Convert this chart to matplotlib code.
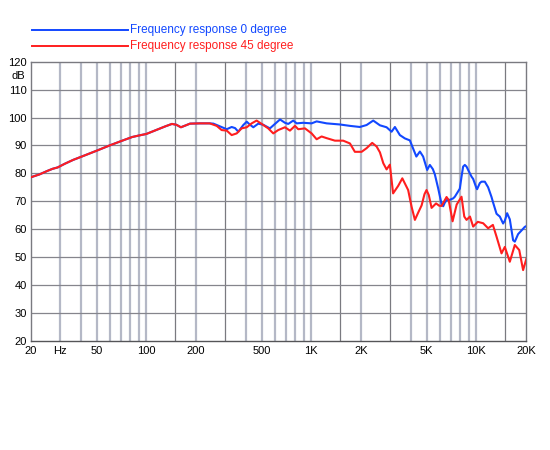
import numpy as np
import matplotlib
matplotlib.use("Agg")
import matplotlib.pyplot as plt
from matplotlib.ticker import FixedLocator, NullLocator

plt.rcParams['font.family'] = ['Liberation Sans', 'DejaVu Sans']

# frequency response 0 degree (Hz, dB)
freq_0 = [20, 22.5, 25, 27, 29, 32, 36, 41, 50, 60, 70, 82, 91, 100, 118, 130, 143, 152, 162,
          172, 184, 211, 242, 255, 280, 307, 329, 345, 361, 387, 406, 425, 445, 477, 511, 561,
          602, 646, 692, 725, 777, 815, 893, 1004, 1077, 1238, 1490, 1714, 1969, 2162, 2372,
          2605, 2858, 3065, 3210, 3440, 3690, 3956, 4144, 4330, 4550, 4760, 5035, 5228, 5450,
          5606, 5872, 6155, 6300, 6444, 6600, 6910, 7235, 7408, 7756, 7943, 8134, 8318, 8518,
          8722, 8920, 9354, 9565, 10027, 10110, 10500, 10752, 11258, 11788, 12360, 12640,
          13256, 13554, 13878, 14532, 14882, 15366, 15956, 16708, 17108, 17914, 18784, 19668,
          20140]
db_0 = [78.6, 79.6, 80.8, 81.6, 82.1, 83.4, 84.8, 86.1, 88.1, 90.0, 91.5, 93.0, 93.6, 94.1,
        95.8, 96.8, 97.7, 97.4, 96.5, 97.1, 97.8, 97.9, 97.9, 97.8, 96.8, 95.8, 96.6, 96.2,
        94.9, 97.3, 98.5, 97.4, 96.5, 97.8, 97.4, 96.1, 97.7, 99.3, 98.1, 97.7, 98.9, 97.9,
        98.1, 97.9, 98.6, 97.9, 97.5, 97.0, 96.6, 97.3, 98.9, 97.2, 96.5, 94.9, 96.6, 93.7,
        92.5, 91.8, 88.8, 86.0, 87.8, 86.0, 81.2, 83.0, 81.5, 79.6, 74.6, 69.0, 68.2, 69.5,
        70.4, 70.5, 71.0, 71.6, 73.5, 74.5, 78.8, 82.4, 83.0, 82.4, 81.2, 78.8, 78.0, 74.6,
        74.3, 76.5, 77.0, 77.0, 75.0, 71.5, 69.5, 65.5, 65.0, 64.5, 62.0, 63.0, 65.7, 63.5,
        56.0, 55.5, 58.2, 59.5, 60.8, 61.1]

# frequency response 45 degree (Hz, dB)
freq_45 = [20, 22.5, 25, 27, 29, 32, 36, 41, 50, 60, 70, 82, 91, 100, 118, 130, 143, 152, 162,
           172, 184, 211, 242, 267, 286, 307, 329, 353, 378, 406, 435, 466, 500, 548, 588, 630,
           692, 742, 796, 833, 915, 1004, 1077, 1154, 1238, 1390, 1560, 1714, 1836, 2017, 2162,
           2338, 2487, 2605, 2730, 2858, 2992, 3130, 3361, 3560, 3862, 4052, 4243, 4450, 4660,
           4850, 4990, 5150, 5355, 5700, 5950, 6155, 6600, 6800, 7180, 7600, 8134, 8450, 8722,
           9150, 9565, 10200, 11000, 11788, 12600, 13256, 14212, 14882, 15956, 17108, 18200,
           19210, 20140]
db_45 = [78.6, 79.6, 80.8, 81.6, 82.1, 83.4, 84.8, 86.1, 88.1, 90.0, 91.5, 93.0, 93.6, 94.1,
         95.8, 96.8, 97.7, 97.4, 96.5, 97.1, 97.8, 97.9, 97.9, 97.0, 95.5, 95.3, 93.7, 94.3,
         96.1, 96.5, 97.9, 98.9, 97.7, 96.1, 94.3, 95.5, 96.5, 95.3, 97.0, 95.8, 96.1, 94.3,
         92.2, 93.2, 92.6, 91.7, 91.7, 90.7, 87.7, 87.7, 89.0, 90.9, 89.6, 87.5, 83.6, 81.4,
         83.1, 72.8, 75.5, 78.2, 74.0, 68.0, 63.3, 66.0, 68.5, 72.5, 74.0, 72.2, 67.6, 69.2,
         68.4, 68.3, 71.5, 70.4, 62.8, 68.8, 71.6, 64.5, 63.3, 64.5, 60.9, 62.6, 62.1, 60.3,
         61.5, 57.3, 51.3, 53.6, 48.3, 54.3, 52.5, 45.3, 49.5]

x_ticks = [20, 30, 50, 100, 200, 500, 1000, 2000, 5000, 10000, 20000]
x_labels = ['20', 'Hz', '50', '100', '200', '500', '1K', '2K', '5K', '10K', '20K']
y_ticks = [20, 30, 40, 50, 60, 70, 80, 90, 100, 110, 120]

light_grid = [30, 40, 50, 60, 70, 80, 90, 100, 200, 400, 500, 600, 700, 800, 900, 1000,
              2000, 4000, 5000, 6000, 7000, 8000, 9000, 10000]
dark_grid = [150, 300, 1500, 3000, 15000]

blue = '#1248ff'
red = '#ff1e1e'

fig = plt.figure(figsize=(5.5, 4.5), dpi=100)
ax = fig.add_axes([31 / 550, 1 - 340.7 / 450, 495 / 550, 279 / 450])

for f in light_grid:
    ax.axvline(f, color='#b4b8c6', lw=1.6, zorder=1)
for f in dark_grid:
    ax.axvline(f, color='#7a7a80', lw=0.9, zorder=1)
for d in y_ticks[1:-1]:
    ax.axhline(d, color='#85858c', lw=0.9, zorder=1)

ax.semilogx(freq_0, db_0, color=blue, lw=1.5, zorder=3)
ax.semilogx(freq_45, db_45, color=red, lw=1.5, zorder=4)

ax.set_xlim(20, 20000)
ax.set_ylim(20, 120)
ax.xaxis.set_major_locator(FixedLocator(x_ticks))
ax.xaxis.set_minor_locator(NullLocator())
ax.set_xticklabels(x_labels)
ax.set_yticks(y_ticks)
ax.tick_params(length=0, labelsize=8, pad=3)
ax.tick_params(axis='x', pad=4)
for s in ax.spines.values():
    s.set_color('#7a7a80')
    s.set_linewidth(1.0)
ax.spines['bottom'].set_color('#555558')

ax.text(-0.012, (115 - 20) / 100, 'dB', transform=ax.transAxes, ha='right', va='center',
        fontsize=8)

# legend drawn at the top like the original
fig.add_artist(plt.Line2D([32 / 550, 128 / 550], [1 - 29.7 / 450] * 2, color=blue, lw=1.4))
fig.add_artist(plt.Line2D([32 / 550, 128 / 550], [1 - 45.5 / 450] * 2, color=red, lw=1.4))
fig.text(130 / 550, 1 - 29.7 / 450, 'Frequency response 0 degree', color=blue, fontsize=8.5,
         va='center')
fig.text(130 / 550, 1 - 45.5 / 450, 'Frequency response 45 degree', color=red, fontsize=8.5,
         va='center')

fig.savefig('out.png', dpi=100)
